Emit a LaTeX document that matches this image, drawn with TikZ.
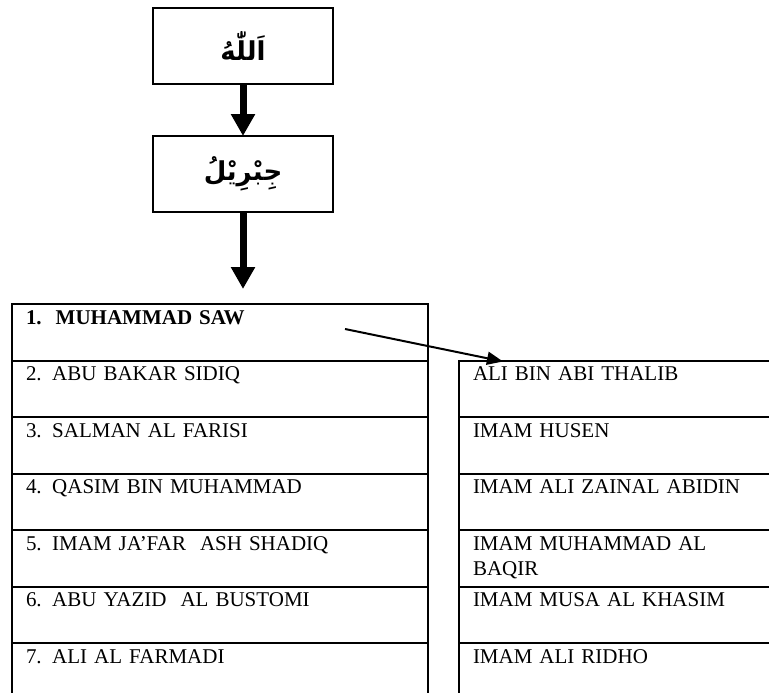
\documentclass[tikz,border=0pt]{standalone}
\usepackage{fontspec}
\setmainfont{Liberation Serif}
\newfontfamily\arabicfont[Script=Arabic]{DejaVu Sans}
\TeXXeTstate=1
\usetikzlibrary{arrows.meta,positioning}

\begin{document}
\begin{tikzpicture}[
  x=1pt, y=1pt,
  font=\fontsize{21}{25}\selectfont,
  box/.style={rectangle, draw, line width=2pt, outer sep=0pt, minimum width=180pt,
              minimum height=76pt, inner sep=0pt,
              font=\fontsize{26}{30}\selectfont\arabicfont\bfseries},
  rowl/.style={rectangle, draw, line width=2pt, outer sep=0pt, text width=388pt,
               align=left, inner xsep=14pt, inner ysep=0pt,
               text height=20pt, text depth=36.5pt},
  rowr/.style={rowl, text width=312pt},
  big/.style={-{Triangle[width=23pt,length=22pt]}, line width=7pt},
  ar/.style={-{Triangle[width=13pt,length=16pt]}, line width=2pt}]

  \clip (0,0) rectangle (769,-693);

  \node[box] (allah) at (243,-46) {\beginR اَللّٰهُ\endR};
  \node[box, below=52pt of allah] (jibril) {\beginR جِبْرِيْلُ\endR};
  \coordinate[below=77pt of jibril.south] (tip);
  % silsilah
  \node[rowl, anchor=north west] (l1) at (12,-304) {\textbf{1.\ \ MUHAMMAD SAW}};
  \node[rowl, below=0pt of l1] (l2) {2. ABU BAKAR SIDIQ};
  \node[rowl, below=0pt of l2] (l3) {3. SALMAN AL FARISI};
  \node[rowl, below=0pt of l3] (l4) {4. QASIM BIN MUHAMMAD};
  \node[rowl, below=0pt of l4] (l5) {5. IMAM JA’FAR\ \ ASH SHADIQ};
  \node[rowl, below=0pt of l5] (l6) {6. ABU YAZID\ \ AL BUSTOMI};
  \node[rowl, below=0pt of l6] (l7) {7. ALI AL FARMADI};
  % ahlul bait
  \node[rowr, right=31pt of l2] (r1) {ALI BIN ABI THALIB};
  \node[rowr, below=0pt of r1] (r2) {IMAM HUSEN};
  \node[rowr, below=0pt of r2] (r3) {IMAM ALI ZAINAL ABIDIN};
  \node[rowr, below=0pt of r3] (r4) {IMAM MUHAMMAD AL\\BAQIR};
  \node[rowr, below=0pt of r4] (r5) {IMAM MUSA AL KHASIM};
  \node[rowr, below=0pt of r5] (r6) {IMAM ALI RIDHO};

  \coordinate[below left=25pt and 83pt of l1.north east] (from);
  \coordinate[below right=1pt and 44pt of r1.north west] (to);

  \draw[big] (allah) -- (jibril);
  \draw[big] (jibril) -- (tip);
  \draw[ar] (from) -- (to);
\end{tikzpicture}
\end{document}
